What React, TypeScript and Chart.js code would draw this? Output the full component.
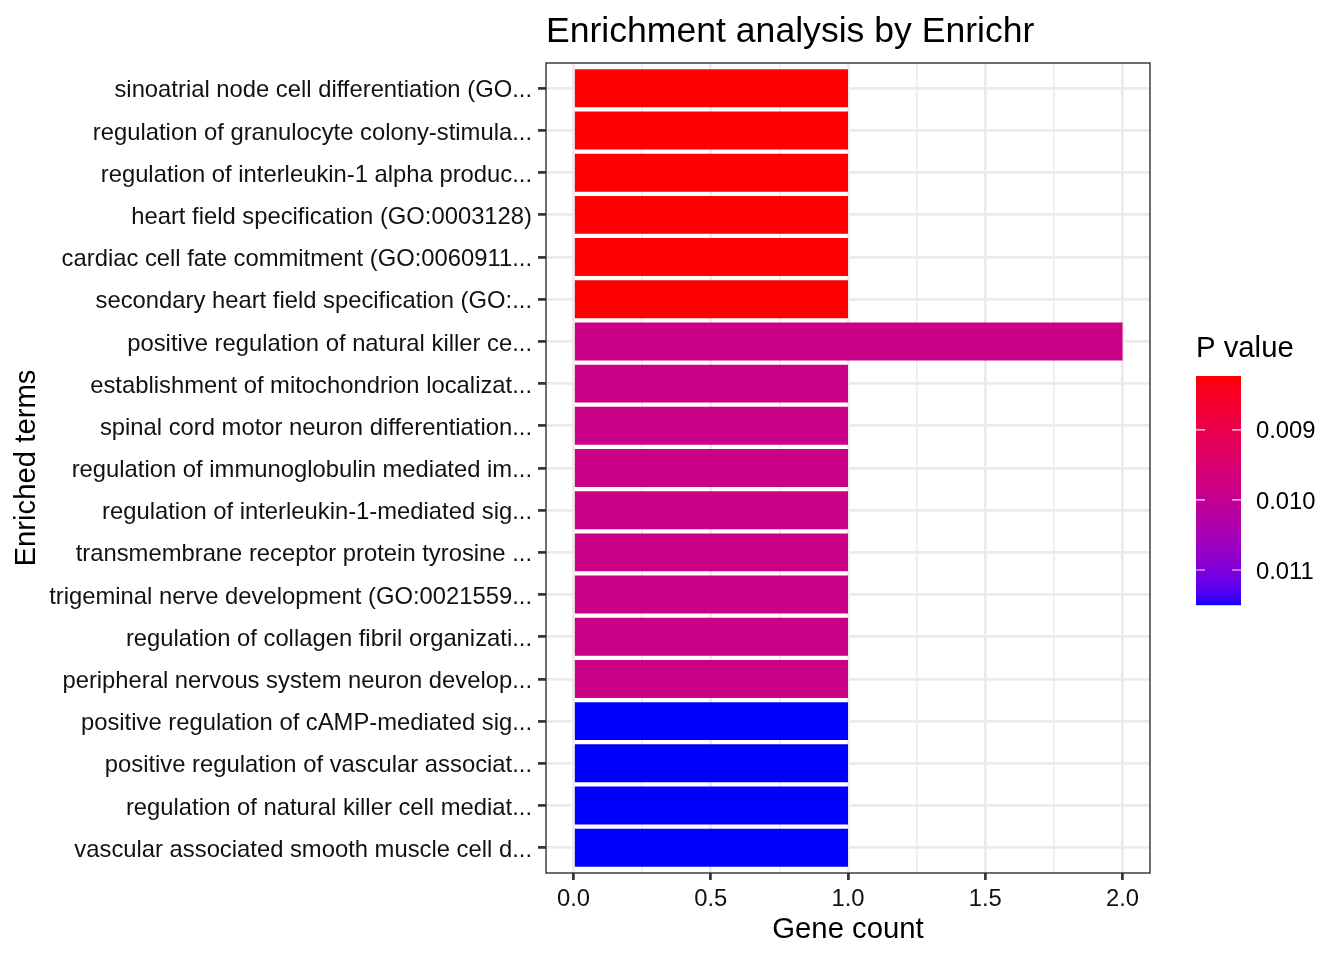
import React, { useEffect, useRef } from "react";
import { Chart, registerables } from "chart.js";

Chart.register(...registerables);

// ---------------- data ----------------
const terms: string[] = [
  "sinoatrial node cell differentiation (GO...",
  "regulation of granulocyte colony-stimula...",
  "regulation of interleukin-1 alpha produc...",
  "heart field specification (GO:0003128)",
  "cardiac cell fate commitment (GO:0060911...",
  "secondary heart field specification (GO:...",
  "positive regulation of natural killer ce...",
  "establishment of mitochondrion localizat...",
  "spinal cord motor neuron differentiation...",
  "regulation of immunoglobulin mediated im...",
  "regulation of interleukin-1-mediated sig...",
  "transmembrane receptor protein tyrosine ...",
  "trigeminal nerve development (GO:0021559...",
  "regulation of collagen fibril organizati...",
  "peripheral nervous system neuron develop...",
  "positive regulation of cAMP-mediated sig...",
  "positive regulation of vascular associat...",
  "regulation of natural killer cell mediat...",
  "vascular associated smooth muscle cell d...",
];

const geneCounts: number[] = [1, 1, 1, 1, 1, 1, 2, 1, 1, 1, 1, 1, 1, 1, 1, 1, 1, 1, 1];

const pValues: number[] = [
  0.00823, 0.00823, 0.00823, 0.00823, 0.00823, 0.00823,
  0.00985, 0.00985, 0.00985, 0.00985, 0.00985, 0.00985, 0.00985, 0.00985, 0.00985,
  0.0115, 0.0115, 0.0115, 0.0115,
];

const xMajorTicks: number[] = [0, 0.5, 1, 1.5, 2];
const xTickLabels: string[] = ["0.0", "0.5", "1.0", "1.5", "2.0"];
const legendTicks: number[] = [0.009, 0.01, 0.011];
const legendTickLabels: string[] = ["0.009", "0.010", "0.011"];

const titleText = "Enrichment analysis by Enrichr";
const xTitle = "Gene count";
const yTitle = "Enriched terms";
const legendTitle = "P value";

// ---------------- colour helpers (Lab interpolation red -> blue) ----------------
const LOW_RGB = [255, 0, 0];
const HIGH_RGB = [0, 0, 255];

function toLin(c: number) {
  c /= 255;
  return c <= 0.04045 ? c / 12.92 : Math.pow((c + 0.055) / 1.055, 2.4);
}
function fromLin(c: number) {
  const v = c <= 0.0031308 ? 12.92 * c : 1.055 * Math.pow(c, 1 / 2.4) - 0.055;
  return Math.round(Math.max(0, Math.min(1, v)) * 255);
}
const XN = 0.95047, YN = 1, ZN = 1.08883;
function rgbToLab(rgb: number[]) {
  const R = toLin(rgb[0]), G = toLin(rgb[1]), B = toLin(rgb[2]);
  const X = 0.4124564 * R + 0.3575761 * G + 0.1804375 * B;
  const Y = 0.2126729 * R + 0.7151522 * G + 0.072175 * B;
  const Z = 0.0193339 * R + 0.119192 * G + 0.9503041 * B;
  const f = (t: number) => (t > 0.008856 ? Math.cbrt(t) : 7.787 * t + 16 / 116);
  const fx = f(X / XN), fy = f(Y / YN), fz = f(Z / ZN);
  return [116 * fy - 16, 500 * (fx - fy), 200 * (fy - fz)];
}
function labToRgb(lab: number[]) {
  const fy = (lab[0] + 16) / 116;
  const fx = fy + lab[1] / 500;
  const fz = fy - lab[2] / 200;
  const inv = (t: number) => (t * t * t > 0.008856 ? t * t * t : (t - 16 / 116) / 7.787);
  const X = inv(fx) * XN, Y = inv(fy) * YN, Z = inv(fz) * ZN;
  const R = 3.2404542 * X - 1.5371385 * Y - 0.4985314 * Z;
  const G = -0.969266 * X + 1.8760108 * Y + 0.041556 * Z;
  const B = 0.0556434 * X - 0.2040259 * Y + 1.0572252 * Z;
  return [fromLin(R), fromLin(G), fromLin(B)];
}
const LOW_LAB = rgbToLab(LOW_RGB);
const HIGH_LAB = rgbToLab(HIGH_RGB);
const P_MIN = Math.min(...pValues);
const P_MAX = Math.max(...pValues);
function colourFor(p: number) {
  const t = Math.max(0, Math.min(1, (p - P_MIN) / (P_MAX - P_MIN)));
  const lab = [0, 1, 2].map((k) => LOW_LAB[k] + (HIGH_LAB[k] - LOW_LAB[k]) * t);
  const rgb = labToRgb(lab);
  return `rgb(${rgb[0]},${rgb[1]},${rgb[2]})`;
}

// ---------------- layout constants ----------------
const W = 1344;
const H = 960;
const PANEL_LEFT = 546;
const PANEL_RIGHT = 1150;
const PANEL_TOP = 63;
const PANEL_BOTTOM = 873;
const FONT = "'Liberation Sans', Arial, Helvetica, sans-serif";
const TICK_SIZE = 23.8;
const AXIS_TITLE_SIZE = 29.3;

const BAR_LEFT = 1196;
const BAR_RIGHT = 1241;
const BAR_TOP = 376;
const BAR_BOTTOM = 605;

const decorPlugin = {
  id: "ggDecor",
  afterDraw(chart: any) {
    const ctx = chart.ctx as CanvasRenderingContext2D;
    const a = chart.chartArea;
    ctx.save();
    // panel border
    ctx.strokeStyle = "#333333";
    ctx.lineWidth = 1.4;
    ctx.strokeRect(a.left, a.top, a.right - a.left, a.bottom - a.top);

    // title
    ctx.fillStyle = "#000000";
    ctx.font = `35.6px ${FONT}`;
    ctx.textAlign = "left";
    ctx.textBaseline = "alphabetic";
    ctx.fillText(titleText, a.left, 42);

    // legend title
    ctx.font = `${AXIS_TITLE_SIZE}px ${FONT}`;
    ctx.fillText(legendTitle, BAR_LEFT, 357);

    // colour bar
    const hgt = BAR_BOTTOM - BAR_TOP;
    for (let i = 0; i < hgt; i++) {
      const p = P_MIN + ((i + 0.5) / hgt) * (P_MAX - P_MIN);
      ctx.fillStyle = colourFor(p);
      ctx.fillRect(BAR_LEFT, BAR_TOP + i, BAR_RIGHT - BAR_LEFT, 1.2);
    }
    // legend ticks & labels
    ctx.strokeStyle = "rgba(255,255,255,0.9)";
    ctx.lineWidth = 1.2;
    ctx.font = `${TICK_SIZE}px ${FONT}`;
    ctx.fillStyle = "#000000";
    ctx.textBaseline = "middle";
    legendTicks.forEach((v, i) => {
      const y = BAR_TOP + ((v - P_MIN) / (P_MAX - P_MIN)) * hgt;
      ctx.beginPath();
      ctx.moveTo(BAR_LEFT, y);
      ctx.lineTo(BAR_LEFT + 9, y);
      ctx.moveTo(BAR_RIGHT - 9, y);
      ctx.lineTo(BAR_RIGHT, y);
      ctx.stroke();
      ctx.fillText(legendTickLabels[i], 1256, y + 2);
    });
    ctx.restore();
  },
};

export default function App() {
  const ref = useRef<HTMLCanvasElement | null>(null);

  useEffect(() => {
    if (!ref.current) return;
    const xAllTicks: number[] = [];
    xMajorTicks.forEach((v, i) => {
      xAllTicks.push(v);
      if (i < xMajorTicks.length - 1) xAllTicks.push((v + xMajorTicks[i + 1]) / 2);
    });
    xAllTicks.sort((p, q) => p - q);
    const isMajor = (v: number) => xMajorTicks.some((m) => Math.abs(m - v) < 1e-9);

    const chart = new Chart(ref.current, {
      type: "bar",
      data: {
        datasets: [
          {
            data: geneCounts.map((c, i) => ({ x: c, y: i })),
            backgroundColor: pValues.map((p) => colourFor(p)),
            borderWidth: 0,
            categoryPercentage: 0.9,
            barPercentage: 1.0,
          } as any,
        ],
      },
      options: {
        indexAxis: "y",
        animation: false,
        responsive: false,
        devicePixelRatio: 1,
        layout: {
          padding: { left: 0, right: W - PANEL_RIGHT, top: PANEL_TOP, bottom: 0 },
        },
        plugins: {
          legend: { display: false },
          title: { display: false },
          tooltip: { enabled: false },
        },
        scales: {
          x: {
            type: "linear",
            position: "bottom",
            min: -0.1,
            max: 2.1,
            offset: false,
            afterBuildTicks: (scale: any) => {
              scale.ticks = xAllTicks.map((v) => ({ value: v }));
            },
            afterFit: (scale: any) => {
              scale.height = H - PANEL_BOTTOM;
            },
            border: { display: false },
            grid: {
              offset: false,
              color: "#EBEBEB",
              lineWidth: (ctx: any) => (ctx.tick && isMajor(ctx.tick.value) ? 2.8 : 1.5),
              tickColor: (ctx: any) =>
                ctx.tick && isMajor(ctx.tick.value) ? "#333333" : "rgba(0,0,0,0)",
              tickWidth: 2.7,
              tickLength: 7,
              drawTicks: true,
            },
            ticks: {
              autoSkip: false,
              maxRotation: 0,
              padding: 5,
              color: "#111111",
              font: { family: FONT, size: TICK_SIZE },
              callback: (v: any) => {
                const idx = xMajorTicks.findIndex((m) => Math.abs(m - Number(v)) < 1e-9);
                return idx >= 0 ? xTickLabels[idx] : "";
              },
            },
            title: {
              display: true,
              text: xTitle,
              color: "#000000",
              font: { family: FONT, size: AXIS_TITLE_SIZE },
              padding: { top: 0, bottom: 13 },
            },
          },
          y: {
            type: "linear",
            position: "left",
            min: -0.6,
            max: terms.length - 1 + 0.6,
            reverse: true,
            offset: false,
            afterBuildTicks: (scale: any) => {
              scale.ticks = terms.map((_, i) => ({ value: i }));
            },
            afterFit: (scale: any) => {
              scale.width = PANEL_LEFT;
            },
            border: { display: false },
            grid: {
              offset: false,
              color: "#EBEBEB",
              lineWidth: 2.8,
              tickColor: "#333333",
              tickWidth: 2.7,
              tickLength: 8,
              drawTicks: true,
            },
            ticks: {
              autoSkip: false,
              padding: 6,
              labelOffset: 2.5,
              color: "#111111",
              font: { family: FONT, size: TICK_SIZE },
              callback: (v: any) => terms[Math.round(Number(v))] ?? "",
            },
            title: {
              display: true,
              text: yTitle,
              color: "#000000",
              font: { family: FONT, size: AXIS_TITLE_SIZE },
              padding: { top: 9, bottom: 0 },
            },
          },
        },
      } as any,
      plugins: [decorPlugin],
    });
    return () => chart.destroy();
  }, []);

  return (
    <div style={{ position: "absolute", left: 0, top: 0, width: W, height: H, background: "#fff" }}>
      <canvas ref={ref} width={W} height={H} style={{ display: "block", width: W, height: H }} />
    </div>
  );
}
